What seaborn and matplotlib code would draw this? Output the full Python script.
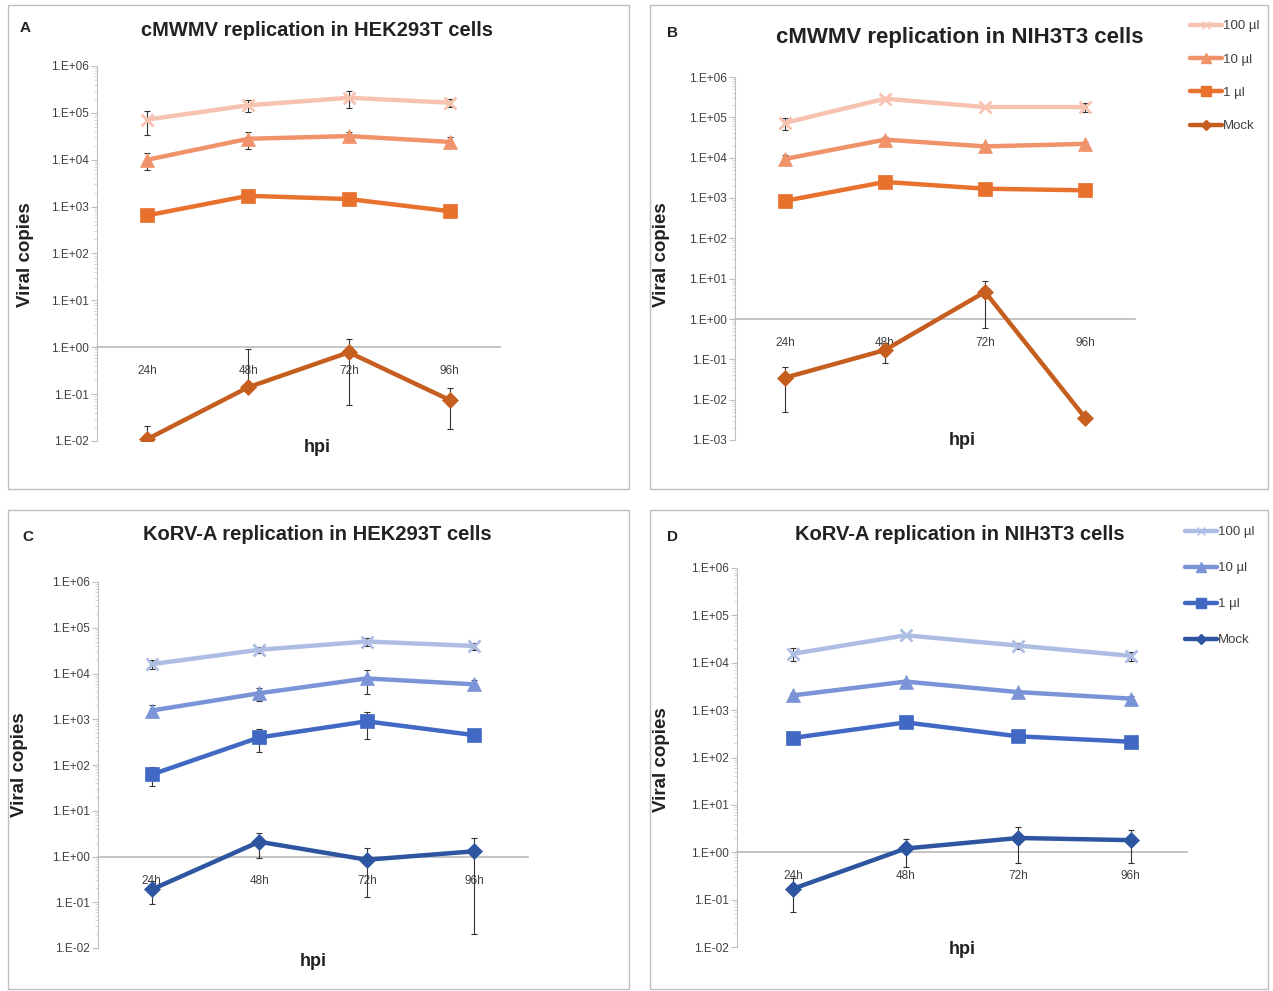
import numpy as np
import pandas as pd
import seaborn as sns
import matplotlib.pyplot as plt
from matplotlib.lines import Line2D
from matplotlib.patches import Rectangle
from matplotlib.ticker import FuncFormatter, FixedLocator, NullFormatter

# datos (media y desviacion por dosis, en copias virales)
hpi = ['24h', '48h', '72h', '96h']
doses = ['100 µl', '10 µl', '1 µl', 'Mock']

a_means = [[7.2e4, 1.45e5, 2.1e5, 1.65e5],
           [1.0e4, 2.8e4, 3.2e4, 2.4e4],
           [650, 1700, 1450, 800],
           [0.011, 0.14, 0.78, 0.075]]
a_sd = [[3.8e4, 4.2e4, 8e4, 3.2e4],
        [4e3, 1.1e4, 8e3, 6e3],
        [100, 400, 250, 120],
        [0.01, 0.8, 0.72, 0.057]]

b_means = [[7.3e4, 2.9e5, 1.8e5, 1.8e5],
           [9.3e3, 2.8e4, 1.9e4, 2.2e4],
           [850, 2500, 1700, 1550],
           [0.035, 0.17, 4.7, 0.0036]]
b_sd = [[2.5e4, 2e4, 1e4, 4.5e4],
        [2.5e3, 4e3, 3e3, 3e3],
        [150, 400, 250, 250],
        [0.03, 0.09, 4.1, 0.0]]

c_means = [[1.6e4, 3.3e4, 5.0e4, 4.0e4],
           [1.55e3, 3.7e3, 7.8e3, 5.8e3],
           [62, 400, 900, 450],
           [0.19, 2.1, 0.85, 1.3]]
c_sd = [[3.5e3, 5e3, 1.1e4, 7e3],
        [450, 1.2e3, 4.2e3, 1.3e3],
        [28, 210, 530, 60],
        [0.1, 1.15, 0.72, 1.28]]

d_means = [[1.55e4, 3.8e4, 2.3e4, 1.4e4],
           [2.05e3, 4.0e3, 2.4e3, 1.75e3],
           [260, 550, 280, 215],
           [0.17, 1.2, 2.0, 1.8]]
d_sd = [[4.5e3, 3e3, 3.5e3, 3e3],
        [200, 400, 250, 200],
        [30, 50, 30, 30],
        [0.115, 0.7, 1.4, 1.2]]

orange = ['#f7c3b0', '#f0926a', '#e8722d', '#c65e1f']
blue = ['#aebde4', '#7b94d8', '#4169c4', '#2d55a0']
markers = ['x', '^', 's', 'D']
msizes = [9, 10, 10.5, 8.5]

sns.set_style("white")
narrow = ['Liberation Sans Narrow', 'Liberation Sans', 'DejaVu Sans']
bold = ['Liberation Sans', 'DejaVu Sans']
plt.rcParams['font.family'] = narrow

W, H = 1273, 991
fig = plt.figure(figsize=(W / 100, H / 100), dpi=100)


def px(x, y):
    return x / W, 1 - y / H


def panel(rect, means, sds, colors, ylim, title, tsize, letter, lpos, tpos, ylpos, hpos,
          legend_pos=None, lspace=1.75):
    l, t, r, b = rect
    ax = fig.add_axes([l / W, 1 - b / H, (r - l) / W, (b - t) / H])
    rows = []
    for i, d in enumerate(doses):
        for j, h in enumerate(hpi):
            rows.append({'dosis': d, 'pos': j, 'copias': means[i][j], 'sd': sds[i][j]})
    df = pd.DataFrame(rows)
    for i, d in enumerate(doses):
        sub = df[df['dosis'] == d]
        sns.lineplot(data=sub, x='pos', y='copias', ax=ax, color=colors[i], linewidth=3.2,
                     marker=markers[i], markersize=msizes[i], markeredgecolor=colors[i],
                     markeredgewidth=2 if markers[i] == 'x' else 0.5, zorder=3)
        m = sub['copias'].values
        s = sub['sd'].values
        low = np.where(m - s > 0, s, 0)
        ax.errorbar(sub['pos'], m, yerr=[low, s], fmt='none', ecolor='#333333',
                    elinewidth=0.8, capsize=2.5, capthick=0.8, zorder=2.5)
    ax.set_yscale('log')
    ax.set_ylim(*ylim)
    ax.set_xlim(-0.5, 3.5)
    lo, hi = int(np.log10(ylim[0])), int(np.log10(ylim[1]))
    dec = np.arange(lo, hi + 1)
    ax.yaxis.set_major_locator(FixedLocator(10.0 ** dec))
    minors = [k * 10.0 ** e for e in dec[:-1] for k in range(2, 10)]
    ax.yaxis.set_minor_locator(FixedLocator(minors))
    ax.yaxis.set_minor_formatter(NullFormatter())
    ax.yaxis.set_major_formatter(FuncFormatter(lambda v, p: f"1.E{int(round(np.log10(v))):+03d}"))
    ax.tick_params(axis='y', which='major', length=4, width=0.8, color='#bfbfbf',
                   labelsize=8.5, labelcolor='#404040', pad=2, left=True)
    ax.tick_params(axis='y', which='minor', length=2, width=0.6, color='#d0d0d0', left=True)
    ax.set_xticks(range(4))
    ax.set_xticklabels(hpi)
    ax.tick_params(axis='x', length=0, labelsize=8.5, labelcolor='#404040', pad=13)
    for sp in ['top', 'right']:
        ax.spines[sp].set_visible(False)
    ax.spines['left'].set_color('#bfbfbf')
    ax.spines['bottom'].set_color('#bfbfbf')
    ax.spines['bottom'].set_linewidth(1.3)
    ax.spines['bottom'].set_position(('data', 1))
    ax.spines['bottom'].set_zorder(1)
    ax.set_xlabel('')
    ax.set_ylabel('')
    if ax.get_legend():
        ax.get_legend().remove()

    fig.text(*px(*tpos), title, ha='center', va='center', fontsize=tsize, fontweight='bold', color='#222222')
    fig.text(*px(*lpos), letter, ha='center', va='center', fontsize=11, fontweight='bold', color='#222222')
    fig.text(*px(*ylpos), 'Viral copies', ha='center', va='center', rotation=90, fontsize=13.5,
             fontweight='bold', family=bold, color='#222222')
    fig.text(*px(*hpos), 'hpi', ha='center', va='center', fontsize=13, fontweight='bold', color='#222222')

    if legend_pos is not None:
        handles = [Line2D([0], [0], color=colors[i], lw=3.2, marker=markers[i], markersize=msizes[i] - 3,
                          markeredgecolor=colors[i]) for i in range(4)]
        fig.legend(handles, doses, loc='upper left', bbox_to_anchor=px(*legend_pos), frameon=False,
                   fontsize=9.5, handlelength=2.4, handletextpad=0.1, labelspacing=lspace,
                   borderpad=0, borderaxespad=0, labelcolor='#404040')
    return ax


# marcos de cada panel
for (x0, y0, x1, y1) in [(8, 5, 629, 489), (650, 5, 1268, 489), (8, 510, 629, 989), (650, 510, 1268, 989)]:
    fig.patches.append(Rectangle(px(x0, y1), (x1 - x0) / W, (y1 - y0) / H, transform=fig.transFigure,
                                 fill=False, edgecolor='#bfbfbf', linewidth=1))

panel((97, 66, 500, 441), a_means, a_sd, orange, (1e-2, 1e6), 'cMWMV replication in HEK293T cells', 14.5,
      'A', (25, 28), (317, 30), (25, 255), (317, 448))
panel((735, 77, 1135, 440), b_means, b_sd, orange, (1e-3, 1e6), 'cMWMV replication in NIH3T3 cells', 16,
      'B', (672, 33), (960, 37), (662, 255), (962, 441), legend_pos=(1190, 20), lspace=1.6)
panel((98, 582, 528, 948), c_means, c_sd, blue, (1e-2, 1e6), 'KoRV-A replication in HEK293T cells', 14.5,
      'C', (28, 537), (317, 535), (20, 765), (313, 962))
panel((737, 568, 1187, 947), d_means, d_sd, blue, (1e-2, 1e6), 'KoRV-A replication in NIH3T3 cells', 14.5,
      'D', (672, 537), (960, 535), (662, 760), (962, 950), legend_pos=(1185, 526), lspace=1.8)

fig.savefig('out.png', dpi=100)
